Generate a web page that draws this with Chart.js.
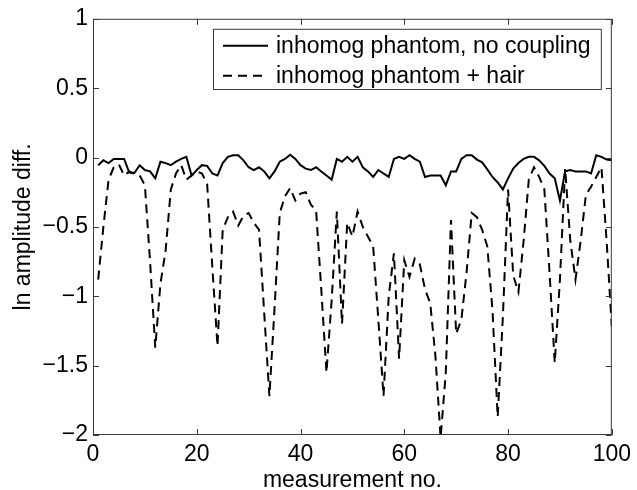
<!DOCTYPE html>
<html>
<head>
<meta charset="utf-8">
<script src="https://cdn.jsdelivr.net/npm/chart.js@4/dist/chart.umd.min.js"></script>
<style>
  html, body { margin: 0; padding: 0; background: #fff; }
  #wrap { width: 637px; height: 490px; }
</style>
</head>
<body>
<div id="wrap"><canvas id="chart"></canvas></div>
<script>
// measurement numbers
const measurement = [1,2,3,4,5,6,7,8,9,10,11,12,13,14,15,16,17,18,19,20,
  21,22,23,24,25,26,27,28,29,30,31,32,33,34,35,36,37,38,39,40,
  41,42,43,44,45,46,47,48,49,50,51,52,53,54,55,56,57,58,59,60,
  61,62,63,64,65,66,67,68,69,70,71,72,73,74,75,76,77,78,79,80,
  81,82,83,84,85,86,87,88,89,90,91,92,93,94,95,96,97,98,99,100];

// inhomog phantom, no coupling
const noCoupling = [
  -0.055, -0.02, -0.04, -0.01, -0.01, -0.01, -0.11, -0.11, -0.055, -0.09,
  -0.10, -0.15, -0.03, -0.04, -0.055, -0.03, -0.01, 0.005, -0.13, -0.09,
  -0.055, -0.06, -0.115, -0.13, -0.04, 0.005, 0.017, 0.017, -0.02, -0.07,
  -0.09, -0.07, -0.10, -0.15, -0.10, -0.03, -0.01, 0.02, -0.01, -0.055,
  -0.08, -0.09, -0.07, -0.10, -0.13, -0.16, -0.01, -0.03, 0.005, -0.03,
  0.005, -0.07, -0.10, -0.14, -0.09, -0.115, -0.14, -0.01, 0.005, -0.01,
  0.017, -0.01, -0.03, -0.14, -0.13, -0.13, -0.13, -0.20, -0.10, -0.10,
  -0.01, 0.017, 0.017, -0.015, -0.035, -0.085, -0.14, -0.18, -0.23, -0.15,
  -0.08, -0.04, -0.01, 0.005, 0.005, -0.02, -0.06, -0.115, -0.15, -0.31,
  -0.10, -0.09, -0.10, -0.10, -0.10, -0.115, 0.017, 0.005, -0.015, -0.02
];

// inhomog phantom + hair
const withHair = [
  -0.88, -0.50, -0.16, -0.07, -0.05, -0.13, -0.10, -0.12, -0.13, -0.20,
  -0.75, -1.37, -0.91, -0.67, -0.23, -0.115, -0.055, -0.16, -0.13, -0.10,
  -0.115, -0.19, -0.79, -1.36, -0.52, -0.43, -0.39, -0.49, -0.42, -0.40,
  -0.47, -0.52, -1.12, -1.72, -1.08, -0.40, -0.28, -0.22, -0.31, -0.26,
  -0.25, -0.34, -0.38, -0.95, -1.55, -1.03, -0.39, -1.20, -0.47, -0.57,
  -0.39, -0.50, -0.57, -0.64, -1.17, -1.72, -1.00, -0.69, -1.45, -0.74,
  -0.86, -0.73, -0.77, -0.95, -1.05, -1.43, -2.02, -1.55, -0.45, -1.27,
  -1.17, -0.83, -0.40, -0.43, -0.52, -0.64, -1.10, -1.87, -1.15, -0.23,
  -0.85, -0.97, -0.60, -0.16, -0.07, -0.14, -0.23, -0.83, -1.48, -0.88,
  -0.08, -0.60, -0.88, -0.60, -0.27, -0.21, -0.14, -0.07, -0.60, -1.22
];

const xTicks = [0, 20, 40, 60, 80, 100];
const yTicks = [-2, -1.5, -1, -0.5, 0, 0.5, 1];

const FONT = "'Liberation Sans', Arial, Helvetica, sans-serif";
const FONT_SIZE = 23;

function fmt(v) {
    return v < 0 ? '\u2212' + Math.abs(v) : String(v);
}

// matlab style box with inward ticks
const boxTicks = {
    id: 'boxTicks',
    afterDatasetsDraw(chart) {
        const { ctx, chartArea: a, scales } = chart;
        const len = 6;
        ctx.save();
        ctx.strokeStyle = '#3a3a3a';
        ctx.lineWidth = 1;
        ctx.strokeRect(a.left + 0.5, a.top + 0.5, a.right - a.left - 1, a.bottom - a.top - 1);
        ctx.beginPath();
        xTicks.forEach(t => {
            const x = Math.round(scales.x.getPixelForValue(t)) + 0.5;
            ctx.moveTo(x, a.bottom); ctx.lineTo(x, a.bottom - len);
            ctx.moveTo(x, a.top); ctx.lineTo(x, a.top + len);
        });
        yTicks.forEach(t => {
            const y = Math.round(scales.y.getPixelForValue(t)) + 0.5;
            ctx.moveTo(a.left, y); ctx.lineTo(a.left + len, y);
            ctx.moveTo(a.right, y); ctx.lineTo(a.right - len, y);
        });
        ctx.stroke();
        ctx.restore();
    }
};

// legend box in the upper right corner
const boxLegend = {
    id: 'boxLegend',
    afterDraw(chart) {
        const { ctx, chartArea: a } = chart;
        const right = a.right - 10, top = a.top + 10;
        const left = 213, bottom = 90;
        ctx.save();
        ctx.fillStyle = '#fff';
        ctx.fillRect(left, top, right - left, bottom - top);
        ctx.strokeStyle = '#3a3a3a';
        ctx.lineWidth = 1;
        ctx.strokeRect(left + 0.5, top + 0.5, right - left - 1, bottom - top - 1);
        ctx.font = FONT_SIZE + 'px ' + FONT;
        ctx.textBaseline = 'middle';
        ctx.fillStyle = '#000';
        chart.data.datasets.forEach((ds, i) => {
            const y = top + 17 + i * 30;
            ctx.beginPath();
            ctx.strokeStyle = '#000';
            ctx.lineWidth = 2;
            ctx.setLineDash(ds.borderDash || []);
            ctx.moveTo(223, y);
            ctx.lineTo(268, y);
            ctx.stroke();
            ctx.setLineDash([]);
            ctx.fillText(ds.label, 276, y + 1);
        });
        ctx.restore();
    }
};

new Chart(document.getElementById('chart'), {
    type: 'line',
    data: {
        labels: measurement,
        datasets: [{
            label: 'inhomog phantom, no coupling',
            data: noCoupling,
            borderColor: '#000',
            borderWidth: 2,
            pointRadius: 0,
            tension: 0
        }, {
            label: 'inhomog phantom + hair',
            data: withHair,
            borderColor: '#000',
            borderWidth: 2,
            borderDash: [9, 6],
            pointRadius: 0,
            tension: 0
        }]
    },
    options: {
        responsive: true,
        maintainAspectRatio: false,
        animation: false,
        layout: { padding: { top: 18, right: 22, left: 0, bottom: 0 } },
        plugins: {
            legend: { display: false },
            tooltip: { enabled: false }
        },
        scales: {
            x: {
                type: 'linear',
                min: 0,
                max: 100,
                afterBuildTicks: s => { s.ticks = xTicks.map(v => ({ value: v })); },
                afterFit: s => { s.height = 55; },
                grid: { display: false, drawTicks: false },
                border: { display: false },
                ticks: {
                    color: '#000',
                    padding: 6,
                    maxRotation: 0,
                    font: { family: FONT, size: FONT_SIZE },
                    callback: fmt
                },
                title: {
                    display: true,
                    text: 'measurement no.',
                    color: '#000',
                    padding: { top: 0, bottom: 0 },
                    font: { family: FONT, size: FONT_SIZE, lineHeight: 0.8 }
                }
            },
            y: {
                min: -2,
                max: 1,
                afterBuildTicks: s => { s.ticks = yTicks.map(v => ({ value: v })); },
                afterFit: s => { s.width = 93; },
                grid: { display: false, drawTicks: false },
                border: { display: false },
                ticks: {
                    color: '#000',
                    padding: 5,
                    font: { family: FONT, size: FONT_SIZE },
                    callback: fmt
                },
                title: {
                    display: true,
                    text: 'ln amplitude diff.',
                    color: '#000',
                    padding: { top: 12, bottom: 0 },
                    font: { family: FONT, size: FONT_SIZE, lineHeight: 1 }
                }
            }
        }
    },
    plugins: [boxTicks, boxLegend]
});
</script>
</body>
</html>
